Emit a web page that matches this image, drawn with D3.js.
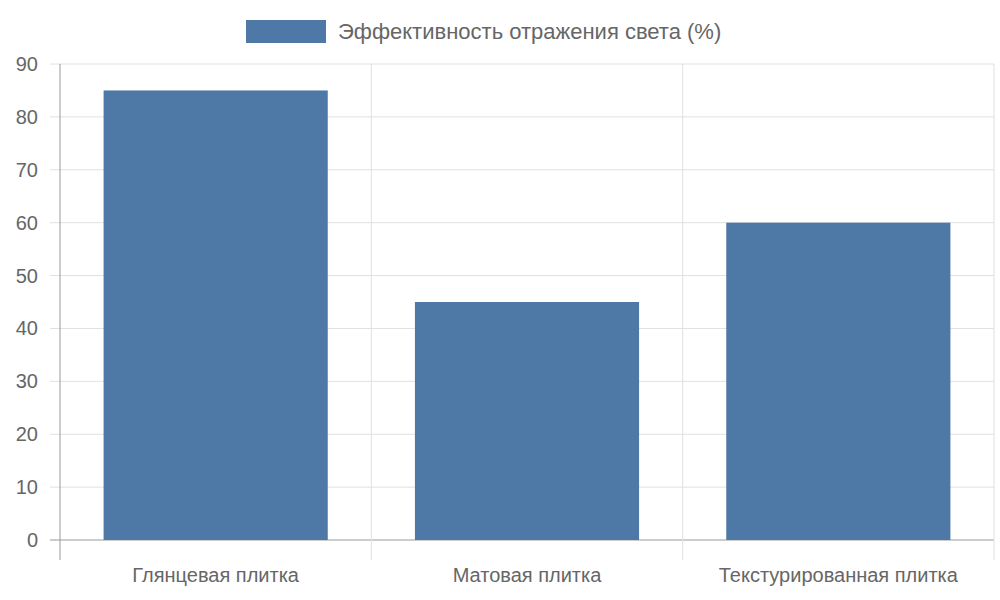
<!DOCTYPE html>
<html><head><meta charset="utf-8">
<script src="https://cdn.jsdelivr.net/npm/d3@7"></script>
<style>body{margin:0;background:#fff}text{font-family:"Liberation Sans",Arial,sans-serif;fill:#666}</style>
</head><body><svg id="chart" width="1000" height="600"></svg>
<script>
// data
const categories = ['Глянцевая плитка', 'Матовая плитка', 'Текстурированная плитка'];
const values = [85, 45, 60];
const seriesName = 'Эффективность отражения света (%)';
const yTicks = [0, 10, 20, 30, 40, 50, 60, 70, 80, 90];

const plotLeft = 60, plotRight = 994, plotTop = 64, plotBottom = 540;
const svg = d3.select('#chart');

const x = d3.scaleBand().domain(categories).range([plotLeft, plotRight]);
const y = d3.scaleLinear().domain([0, 90]).range([plotBottom, plotTop]);

// grid
svg.selectAll('.hg').data(yTicks).enter().append('line')
  .attr('x1', plotLeft - 10).attr('x2', plotRight)
  .attr('y1', d => y(d)).attr('y2', d => y(d))
  .attr('stroke', d => d === 0 ? '#999' : '#e0e0e0');
const vlines = categories.map(c => x(c)).concat([plotRight]);
svg.selectAll('.vg').data(vlines).enter().append('line')
  .attr('x1', d => d).attr('x2', d => d)
  .attr('y1', plotTop).attr('y2', plotBottom + 20)
  .attr('stroke', (d, i) => i === 0 ? '#999' : '#e0e0e0');

// bars
const bw = x.bandwidth() * 0.72;
svg.selectAll('.bar').data(values).enter().append('rect')
  .attr('x', (d, i) => x(categories[i]) + (x.bandwidth() - bw) / 2)
  .attr('width', bw)
  .attr('y', d => y(d)).attr('height', d => plotBottom - y(d))
  .attr('fill', '#4e79a7');

// labels
svg.selectAll('.yl').data(yTicks).enter().append('text')
  .attr('x', 38).attr('y', d => y(d) + 7).attr('text-anchor', 'end')
  .attr('font-size', 20).text(d => d);
svg.selectAll('.xl').data(categories).enter().append('text')
  .attr('x', d => x(d) + x.bandwidth() / 2).attr('y', 582)
  .attr('text-anchor', 'middle').attr('font-size', 20).text(d => d);

// legend
svg.append('rect').attr('x', 246).attr('y', 20).attr('width', 80).attr('height', 23).attr('fill', '#4e79a7');
svg.append('text').attr('x', 338).attr('y', 39).attr('font-size', 22).text(seriesName);
</script></body></html>
